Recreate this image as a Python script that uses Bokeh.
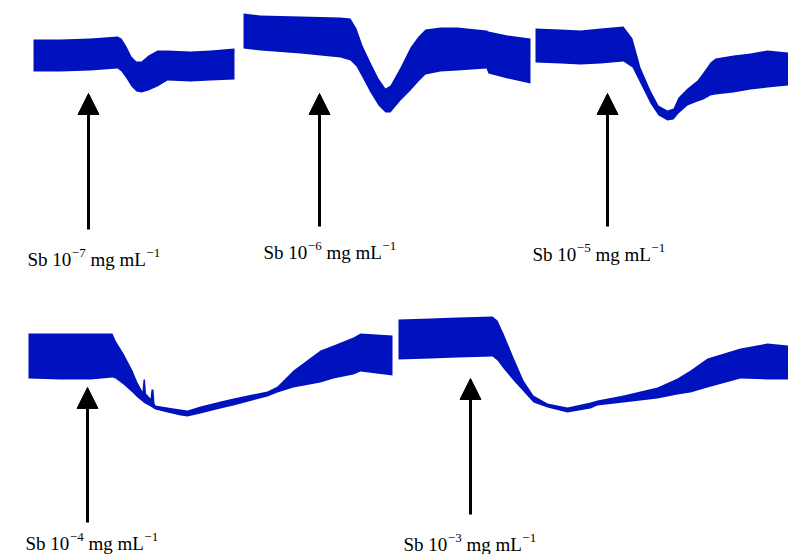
from bokeh.plotting import figure
from bokeh.models import Range1d, ColumnDataSource, Arrow, NormalHead
from bokeh.core.properties import value
from bokeh.embed import file_html
from bokeh.resources import INLINE

# ---------------- data (trace envelopes: position, upper edge, lower edge) ----------------
t1_x   = [33, 60, 90, 117, 121, 126, 131, 136, 141, 148, 157, 167, 190, 210, 234]
t1_top = [39, 39, 38, 36, 38, 46, 56, 61, 61, 55, 50, 50, 51, 50, 48]
t1_bot = [71, 71, 70, 68, 71, 78, 86, 91, 92, 90, 86, 80, 81, 80, 79]

t2_x   = [243, 260, 300, 340, 350, 356, 362, 370, 378, 385, 390, 400, 410, 418, 425, 440, 457, 486, 488, 507, 530]
t2_top = [13, 15, 16, 17, 18, 28, 45, 62, 78, 88, 85, 67, 47, 36, 29, 27, 27, 30, 31, 35, 38]
t2_bot = [48, 50, 53, 57, 60, 66, 77, 92, 105, 112, 112, 100, 90, 81, 74, 71, 70, 68, 73, 78, 83]

t3_x   = [535, 560, 580, 600, 623, 632, 640, 650, 658, 667, 673, 678, 687, 697, 703, 710, 715, 733, 750, 767, 788]
t3_top = [28, 29, 30, 28, 26, 38, 67, 90, 105, 110, 108, 97, 88, 80, 72, 62, 58, 55, 53, 50, 52]
t3_bot = [62, 63, 64, 63, 61, 67, 83, 103, 115, 120, 119, 113, 105, 101, 99, 95, 94, 92, 89, 87, 85]

t4_x   = [28, 60, 90, 112, 115, 123, 132, 137, 142, 143, 144.5, 145.5, 150, 151, 153, 154, 155,
          167, 180, 187, 200, 220, 233, 267, 277, 293, 320, 333, 353, 360, 392]
t4_top = [333, 333, 333, 333, 340, 353, 370, 382, 391, 379, 379, 393, 398, 389, 389, 403, 405,
          407, 409, 410, 406, 401, 398, 391, 386, 370, 350, 345, 337, 333, 335]
t4_bot = [378, 379, 379, 377, 378, 384, 392, 397, 401, 402, 403, 403.5, 406, 406.5, 408, 408.5, 409,
          412, 415, 416, 413, 408, 405, 396, 392, 387, 382, 378, 374, 371, 375]

t5_x   = [398, 430, 457, 492, 497, 503, 513, 523, 533, 547, 567, 590, 597, 623, 657, 677, 690, 707, 740, 767, 788]
t5_top = [319, 318, 317, 316, 320, 333, 357, 380, 395, 403, 407, 402, 400, 395, 387, 378, 370, 358, 348, 343, 345]
t5_bot = [359, 358, 357, 356, 360, 368, 380, 391, 402, 407, 412, 408, 405, 402, 398, 394, 392, 387, 378, 379, 379]

# arrows marking the injection points
arrow_x    = [88, 319, 607, 87, 470]
arrow_tip  = [93, 93, 93, 387, 378]
arrow_tail = [229, 226, 226, 522, 514]

# labels: concentration exponents and label anchor (left, baseline)
label_exp = ["−7", "−6", "−5", "−4", "−3"]
label_x   = [27, 263, 532, 25, 403]
label_y   = [259, 252, 254, 543, 544]

BLUE = "#0012BE"
FONT = "Liberation Serif"
BASE_SIZE = 19.0
SUP_SIZE = 13.0

# Times / Liberation Serif advance widths (per em)
W = {"S": .556, "b": .5, " ": .25, "0": .5, "1": .5, "2": .5, "3": .5, "4": .5, "5": .5,
     "6": .5, "7": .5, "m": .778, "g": .5, "L": .611, "−": .564}


def width(s, size):
    return sum(W[c] for c in s) * size


p = figure(width=788, height=554, output_backend="svg", toolbar_location=None,
           x_range=Range1d(0, 788), y_range=Range1d(554, 0),
           min_border=0, outline_line_color=None,
           x_axis_location=None, y_axis_location=None)
p.xgrid.visible = False
p.ygrid.visible = False
p.background_fill_color = "white"
p.border_fill_color = "white"

for xs, top, bot in [(t1_x, t1_top, t1_bot), (t2_x, t2_top, t2_bot), (t3_x, t3_top, t3_bot),
                     (t4_x, t4_top, t4_bot), (t5_x, t5_top, t5_bot)]:
    p.varea(x=xs, y1=top, y2=bot, fill_color=BLUE)

arrow_src = ColumnDataSource(dict(x0=arrow_x, y0=arrow_tail, x1=arrow_x, y1=arrow_tip))
p.add_layout(Arrow(source=arrow_src, x_start="x0", y_start="y0", x_end="x1", y_end="y1",
                   line_color="black", line_width=3,
                   end=NormalHead(size=21, fill_color="black", line_color="black", line_width=1)))

base_x, base_y, base_t = [], [], []
sup_x, sup_y, sup_t = [], [], []
for e, x0, y0 in zip(label_exp, label_x, label_y):
    x = x0
    base_x.append(x); base_y.append(y0); base_t.append("Sb 10")
    x += width("Sb 10", BASE_SIZE) + 0.5
    sup_x.append(x); sup_y.append(y0 - 7); sup_t.append(e)
    x += width(e, SUP_SIZE) + width(" ", BASE_SIZE)
    base_x.append(x); base_y.append(y0); base_t.append("mg mL")
    x += width("mg mL", BASE_SIZE) + 0.5
    sup_x.append(x); sup_y.append(y0 - 7); sup_t.append("−1")

p.text(x=base_x, y=base_y, text=base_t, text_font=value(FONT), text_font_size=f"{BASE_SIZE}px",
       text_baseline="alphabetic", text_align="left", text_color="black")
p.text(x=sup_x, y=sup_y, text=sup_t, text_font=value(FONT), text_font_size=f"{SUP_SIZE}px",
       text_baseline="alphabetic", text_align="left", text_color="black")

open("out.html", "w").write(file_html(p, INLINE))
